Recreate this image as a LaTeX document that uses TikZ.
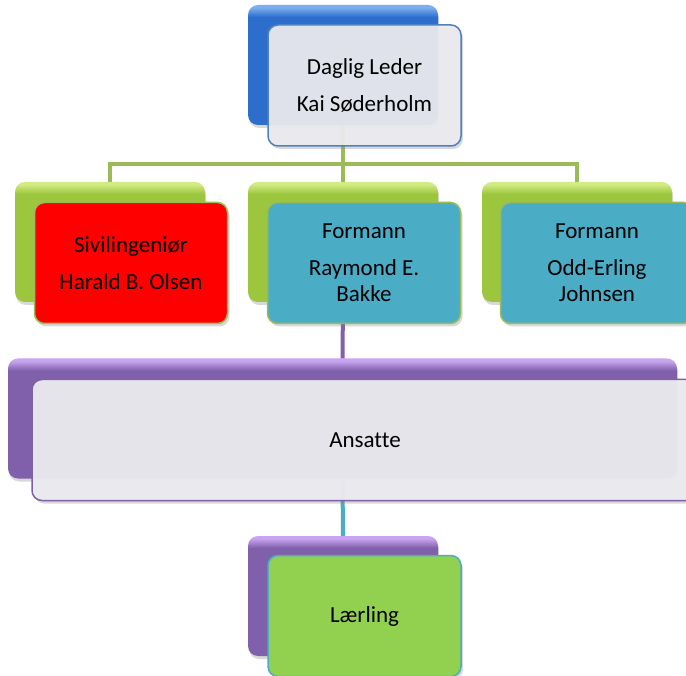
\documentclass[tikz,border=0pt]{standalone}
\usepackage{fontspec}
\setmainfont{Carlito}
\usetikzlibrary{shadows}
\definecolor{blueTop}{RGB}{125,175,240}
\definecolor{blueBase}{RGB}{45,110,205}
\definecolor{blueLine}{RGB}{79,129,189}
\definecolor{greenTop}{RGB}{210,235,130}
\definecolor{greenBase}{RGB}{155,198,62}
\definecolor{greenLine}{RGB}{155,187,89}
\definecolor{purpleTop}{RGB}{200,165,240}
\definecolor{purpleBase}{RGB}{128,96,170}
\definecolor{paleBox}{RGB}{236,235,240}
\definecolor{tealBox}{RGB}{75,172,198}
\definecolor{limeBox}{RGB}{146,208,80}
% back box shadings: solid colour with a thin light band on top
\pgfdeclareverticalshading{blueBack}{100bp}{color(0bp)=(blueBase); color(70bp)=(blueBase); color(74bp)=(blueTop); color(100bp)=(blueTop)}
\pgfdeclareverticalshading{greenBack}{100bp}{color(0bp)=(greenBase); color(70bp)=(greenBase); color(74bp)=(greenTop); color(100bp)=(greenTop)}
\pgfdeclareverticalshading{purpleBack}{100bp}{color(0bp)=(purpleBase); color(70bp)=(purpleBase); color(74bp)=(purpleTop); color(100bp)=(purpleTop)}
\begin{document}
\begin{tikzpicture}[x=1pt,y=-1pt]
\tikzstyle{every node}+=[inner sep=0pt]
\tikzstyle{back}=[rectangle, rounded corners=10pt, minimum width=190pt, minimum height=120pt,
  drop shadow={shadow xshift=1pt, shadow yshift=-3pt, opacity=0.3}]
\tikzstyle{front}=[rectangle, rounded corners=10pt, minimum width=193pt, minimum height=121pt,
  draw, line width=1.5pt, align=center, font={\fontsize{23}{26}\selectfont},
  drop shadow={shadow xshift=2pt, shadow yshift=-3pt, opacity=0.3}]
\tikzstyle{link}=[line width=4pt]
\clip (0,0) rectangle (686,676);
\fill [white] (0,0) rectangle (686,676);
% back boxes
\node [back, shading=blueBack] (ledB) at (343,65) {};
\node [back, shading=greenBack] (sivB) at (110,242) {};
\node [back, shading=greenBack] (rayB) at (343,242) {};
\node [back, shading=greenBack] (oddB) at (577,242) {};
\node [back, minimum width=669pt, shading=purpleBack] (ansB) at (342.5,418.5) {};
\node [back, shading=purpleBack] (laeB) at (343,596) {};
% connectors
\coordinate (hub) at (343,164);
\draw [link, greenLine] (ledB.south) -- (hub);
\draw [link, greenLine] (hub) -| (sivB.north);
\draw [link, greenLine] (hub) -- (rayB.north);
\draw [link, greenLine] (hub) -| (oddB.north);
\draw [link, purpleBase] (rayB.south) -- (ansB.north);
\draw [link, tealBox] (ansB.south) -- (laeB.north);
% front boxes
\node [front, draw=blueLine, fill=paleBox, fill opacity=0.93, text opacity=1] (leder) at (364.5,85.5) {Daglig Leder\\[11pt]Kai Søderholm};
\node [front, draw=greenLine, fill=red] (sivil) at (131,263) {Sivilingeniør\\[11pt]Harald B. Olsen};
\node [front, draw=greenLine, fill=tealBox] (raymond) at (364,263) {Formann\\[11pt]Raymond E.\\Bakke};
\node [front, draw=greenLine, fill=tealBox] (odd) at (597,263) {Formann\\[11pt]Odd-Erling\\Johnsen};
\node [front, minimum width=669pt, draw=purpleBase, fill=paleBox, fill opacity=0.95, text opacity=1] (ansatte) at (366.5,440) {};
\node [font={\fontsize{23}{26}\selectfont\addfontfeature{Ligatures=NoCommon}}] (ansText) at (365,440) {Ansatte};
\node [front, draw=tealBox, fill=limeBox] (laerling) at (364.5,616) {Lærling};
\end{tikzpicture}
\end{document}
